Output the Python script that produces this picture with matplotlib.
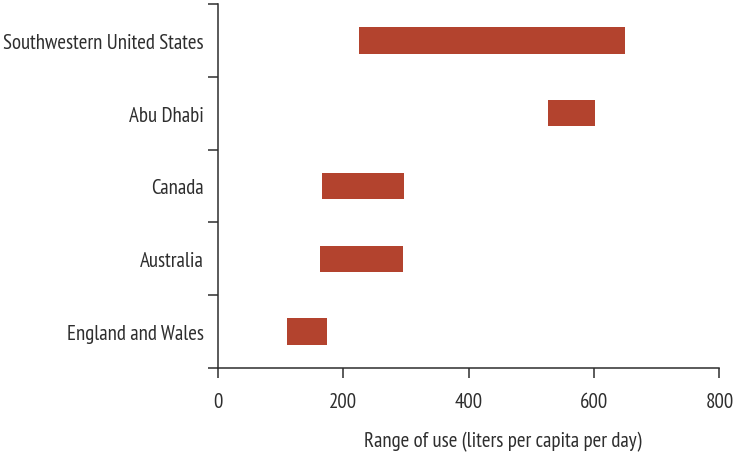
import matplotlib
matplotlib.use("Agg")
import matplotlib.pyplot as plt

categories = ["Southwestern United States", "Abu Dhabi", "Canada", "Australia", "England and Wales"]
low = [225, 527, 166, 163, 110]
high = [650, 602, 297, 296, 175]
x_ticks = [0, 200, 400, 600, 800]
x_label = "Range of use (liters per capita per day)"

plt.rcParams['font.family'] = ['PT Sans Narrow', 'Fira Sans Condensed', 'Roboto Condensed', 'DejaVu Sans']

bar_color = '#b3432e'
ink = '#2e2e2e'

fig = plt.figure(figsize=(7.33, 4.56), dpi=100)
ax = fig.add_axes([217.7/733, 1 - 369/456, (719.4-217.7)/733, (369-5)/456])

n = len(categories)
ypos = list(range(n - 1, -1, -1))
ax.barh(ypos, [h - l for l, h in zip(low, high)], left=low, height=0.36,
        color=bar_color, linewidth=0)

ax.set_xlim(0, 800)
ax.set_ylim(-0.5, n - 0.5)
ax.set_xticks(x_ticks)
ax.set_xticklabels([str(t) for t in x_ticks])

ax.set_yticks([i - 0.5 for i in range(n + 1)])
ax.set_yticklabels([])
ax.set_yticks(ypos, minor=True)
ax.set_yticklabels(categories, minor=True)
ax.tick_params(axis='y', which='minor', length=0, pad=10, labelsize=15, labelcolor=ink)
ax.tick_params(axis='y', which='major', length=7.2, width=1.1, color=ink, direction='out')
ax.tick_params(axis='x', which='major', length=7.2, width=1.1, color=ink, direction='out',
               pad=10, labelsize=15, labelcolor=ink)

for s in ['top', 'right']:
    ax.spines[s].set_visible(False)
for s in ['left', 'bottom']:
    ax.spines[s].set_color(ink)
    ax.spines[s].set_linewidth(1.1)

ax.set_xlabel(x_label, fontsize=15, color=ink)
ax.xaxis.set_label_coords(0.568, -0.2)
ax.xaxis.label.set_va('center')

fig.savefig("out.png", dpi=100)
